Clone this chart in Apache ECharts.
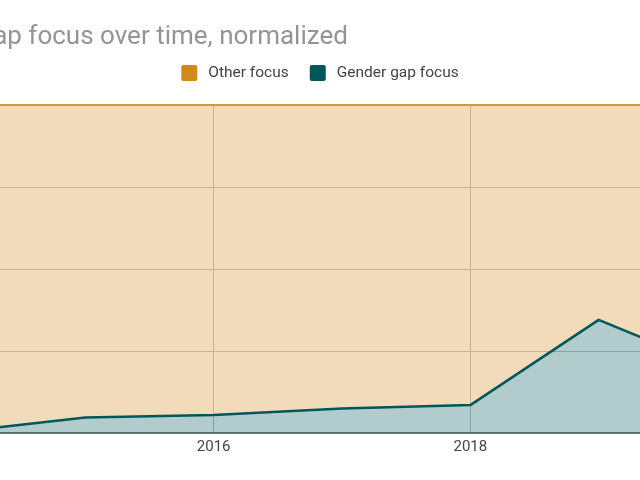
<!DOCTYPE html>
<html>
<head>
<meta charset="utf-8">
<script src="https://cdn.jsdelivr.net/npm/echarts@6/dist/echarts.min.js"></script>
<style>
  html, body { margin: 0; padding: 0; overflow: hidden; background: #fff; width: 640px; height: 480px; }
  #chart { position: absolute; left: -116px; top: 0; width: 872px; height: 480px; }
</style>
</head>
<body>
<div id="chart"></div>
<script>
const years = ['2014', '2015', '2016', '2017', '2018', '2019', '2020'];
const genderGapFocus = [0.3, 4.7, 5.5, 7.5, 8.5, 34.5, 18.4];
const otherFocus = [99.7, 95.3, 94.5, 92.5, 91.5, 65.5, 81.6];
const yTicks = ['0%', '25%', '50%', '75%', '100%'];

const squareIcon = 'path://M2,0 H14 A2,2 0 0 1 16,2 V14 A2,2 0 0 1 14,16 H2 A2,2 0 0 1 0,14 V2 A2,2 0 0 1 2,0 Z';

const chart = echarts.init(document.getElementById('chart'), null, { renderer: 'canvas' });
chart.setOption({
  animation: false,
  title: {
    text: 'Gender gap focus over time, normalized',
    left: 5,
    top: 24,
    padding: 0,
    textStyle: { fontFamily: 'Roboto', fontSize: 26, fontWeight: 'normal', color: '#949494' }
  },
  legend: {
    data: ['Other focus', 'Gender gap focus'],
    left: 'center',
    top: 65,
    padding: 0,
    itemWidth: 16,
    itemHeight: 16,
    itemGap: 21,
    icon: squareIcon,
    textStyle: { fontFamily: 'Roboto', fontSize: 15.5, color: '#444', padding: [0, 0, 0, 6] }
  },
  grid: { left: 73, right: 29, top: 105, bottom: 47, containLabel: false },
  xAxis: {
    type: 'category',
    data: years,
    boundaryGap: false,
    axisLine: { lineStyle: { color: '#555', width: 1.5 } },
    axisTick: { show: false },
    axisLabel: { interval: 1, margin: 7, fontFamily: 'Roboto', fontSize: 15, color: '#444' },
    splitLine: { show: true, interval: 1, lineStyle: { color: '#c4c4c4', width: 1 } }
  },
  yAxis: {
    type: 'value',
    min: 0,
    max: 100,
    interval: 25,
    axisLine: { show: false },
    axisTick: { show: false },
    axisLabel: { show: false, formatter: (v) => yTicks[v / 25] },
    splitLine: { show: true, lineStyle: { color: '#c4c4c4', width: 1 } }
  },
  series: [
    {
      name: 'Gender gap focus',
      type: 'line',
      stack: 'total',
      data: genderGapFocus,
      symbol: 'none',
      z: 4,
      color: '#00575a',
      lineStyle: { color: '#00575a', width: 2.5 },
      areaStyle: { color: '#00575a', opacity: 0.3 }
    },
    {
      name: 'Other focus',
      type: 'line',
      stack: 'total',
      data: otherFocus,
      symbol: 'none',
      z: 3,
      color: '#d1891a',
      lineStyle: { color: '#cf9a3e', width: 2 },
      areaStyle: { color: '#d1891a', opacity: 0.3 }
    }
  ]
});
</script>
</body>
</html>
